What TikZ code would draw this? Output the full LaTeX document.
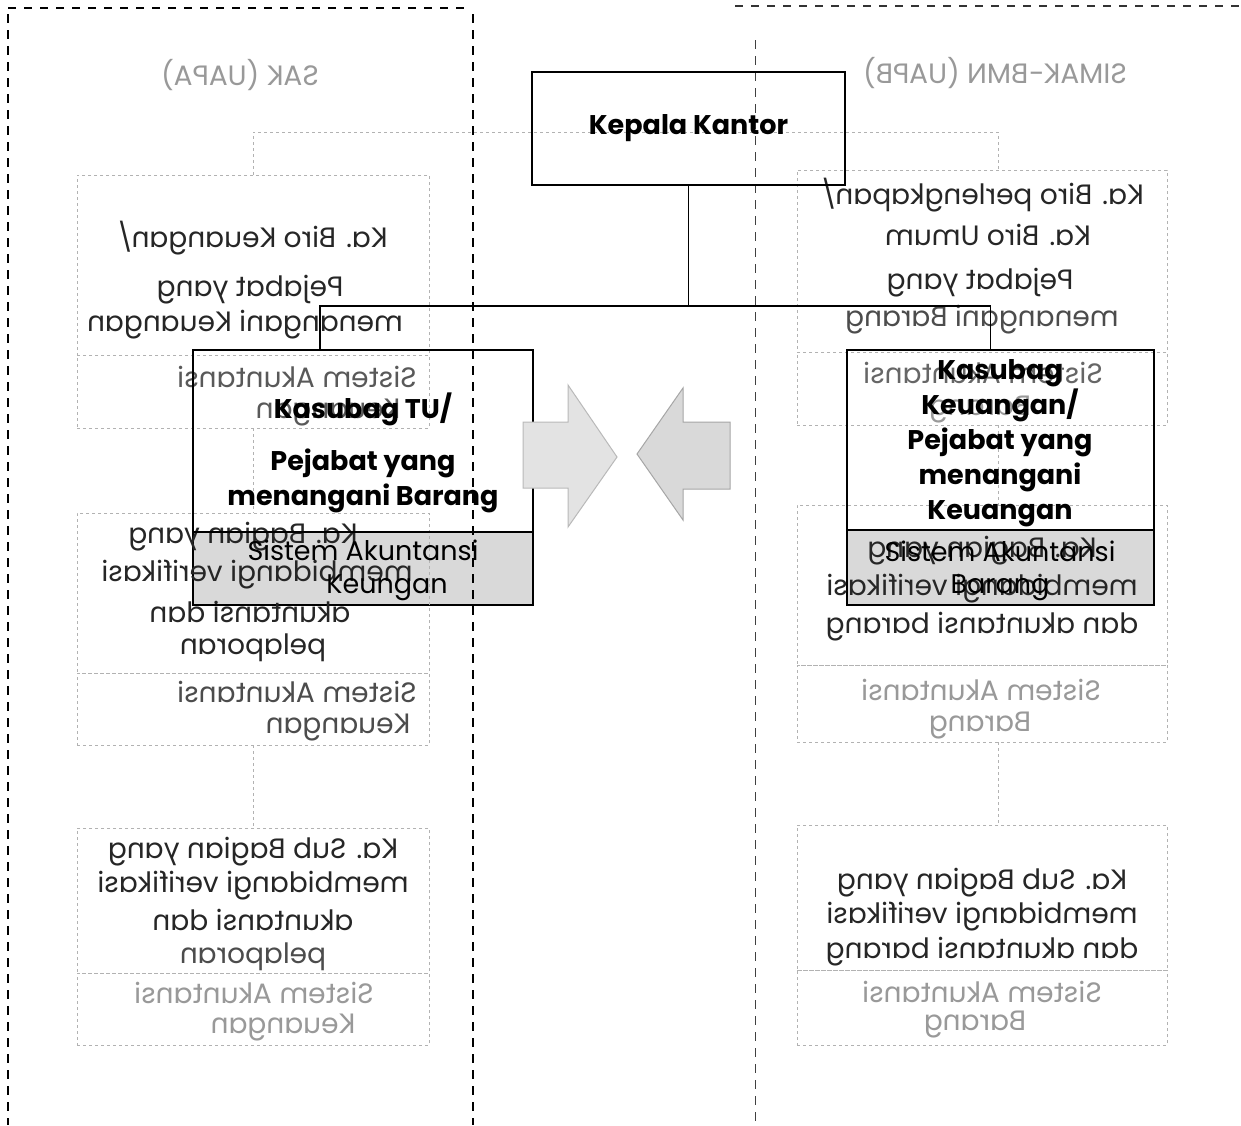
\documentclass[tikz,border=0pt]{standalone}
\usepackage{fontspec}
\setmainfont{Poppins}
\begin{document}
\begin{tikzpicture}[x=1pt,y=-1pt,
  frontline/.style={draw=black, line width=1.6pt},
  frontbox/.style={frontline, rectangle, inner sep=0pt},
  shadebox/.style={frontbox, fill=gray!30},
  backline/.style={draw=gray!60, line width=0.9pt, dash pattern=on 3pt off 3pt},
  backbox/.style={backline, rectangle, inner sep=0pt},
  backtxt/.style={xscale=-1, inner sep=0pt, text=black!85, font=\fontsize{28}{35}\selectfont},
  fainttxt/.style={backtxt, text=black!40},
  fronttxt/.style={inner sep=0pt, align=center, font=\fontsize{27}{35}\selectfont\bfseries},
  plaintxt/.style={inner sep=0pt, font=\fontsize{27}{35}\selectfont},
  colline/.style={line width=1.6pt, dash pattern=on 9pt off 7pt},
  arrowshape/.style={fill=gray!22, line width=1pt}
]
\useasboundingbox (0,0) rectangle (1241,1125);
\fill[white] (0,0) rectangle (1241,1125);

% shaded lower parts of the front boxes (drawn first, so the back text shows over them)
\node[shadebox, minimum width=340pt, minimum height=73pt] (tus) at (363,568.5) {};
\node[shadebox, minimum width=307pt, minimum height=75pt] (kes) at (1000.5,567.5) {};

% page frame and column lines
\draw[line width=1.2pt, dash pattern=on 8pt off 8pt] (8,8) -- (470,8);
\draw[line width=1.2pt, dash pattern=on 8pt off 8pt, black!80] (735,6) -- (1241,6);
\draw[colline, line width=1.2pt] (8,14) -- (8,1125);
\draw[colline] (473,14) -- (473,1125);
\draw[colline, line width=1pt, black!75] (755,40) -- (755,1125);

% ---------- show-through (mirrored) back side ----------
\node[fainttxt] (ttl1) at (240,75) {SAK (UAPA)};
\node[fainttxt] (ttl2) at (995,73) {SIMAK-BMN (UAPB)};

\node[backbox, minimum width=352pt, minimum height=180pt] (lb1a) at (253,265) {};
\node[backbox, minimum width=352pt, minimum height=73pt]  (lb1b) at (253,391.5) {};
\node[backbox, minimum width=352pt, minimum height=160pt] (lb2a) at (253,593) {};
\node[backbox, minimum width=352pt, minimum height=72pt]  (lb2b) at (253,709) {};
\node[backbox, minimum width=352pt, minimum height=145pt] (lb3a) at (253,900.5) {};
\node[backbox, minimum width=352pt, minimum height=72pt]  (lb3b) at (253,1009) {};

\node[backbox, minimum width=370pt, minimum height=182pt] (rb1a) at (982,261) {};
\node[backbox, minimum width=370pt, minimum height=73pt]  (rb1b) at (982,388.5) {};
\node[backbox, minimum width=370pt, minimum height=160pt] (rb2a) at (982,585) {};
\node[backbox, minimum width=370pt, minimum height=77pt]  (rb2b) at (982,703.5) {};
\node[backbox, minimum width=370pt, minimum height=145pt] (rb3a) at (982,897.5) {};
\node[backbox, minimum width=370pt, minimum height=75pt]  (rb3b) at (982,1007.5) {};

\coordinate (bkk) at (688,132);
\draw[backline] (lb1a.north) |- (bkk) -| ([xshift=16pt]rb1a.north);
\draw[backline] (lb1b.south) -- (lb2a.north);
\draw[backline] (lb2b.south) -- (lb3a.north);
\draw[backline] ([xshift=16pt]rb1b.south) -- ([xshift=16pt]rb2a.north);
\draw[backline] ([xshift=16pt]rb2b.south) -- ([xshift=16pt]rb3a.north);

% left back texts
\node[backtxt] (l1) at (253,238) {Ka. Biro Keuangan/};
\node[backtxt] (l2) at (250,290) {Pejabat yang};
\node[backtxt] (l3) at (245,325) {menangani Keuangan};
\node[backtxt, text=black!65] (l4) at (297,377) {Sistem Akuntansi};
\node[backtxt, text=black!65] (l5) at (328,413) {Keuangan};
\node[backtxt] (l6) at (243,537) {Ka. Bagian yang};
\node[backtxt] (l7) at (257,575) {membidangi verifikasi};
\node[backtxt] (l8) at (250,612) {akuntansi dan};
\node[backtxt] (l9) at (253,648) {pelaporan};
\node[backtxt, text=black!70] (l10) at (297,692) {Sistem Akuntansi};
\node[backtxt, text=black!70] (l11) at (338,728) {Keuangan};
\node[backtxt] (l12) at (253,852) {Ka. Sub Bagian yang};
\node[backtxt] (l13) at (253,886) {membidangi verifikasi};
\node[backtxt] (l14) at (253,920) {akuntansi dan};
\node[backtxt, text=black!70] (l15) at (253,957) {pelaporan};
\node[fainttxt] (l16) at (254,993) {Sistem Akuntansi};
\node[fainttxt] (l17) at (283,1028) {Keuangan};

% right back texts
\node[backtxt] (r1) at (983,195) {Ka. Biro perlengkapan/};
\node[backtxt] (r2) at (988,235) {Ka. Biro Umum};
\node[backtxt] (r3) at (980,283) {Pejabat yang};
\node[backtxt, text=black!70] (r4) at (982,320) {menangani Barang};
\node[backtxt, text=black!60] (r5) at (983,373) {Sistem Akuntansi};
\node[fainttxt] (r6) at (980,410) {Barang};
\node[backtxt] (r7) at (982,551) {Ka. Bagian yang};
\node[backtxt] (r8) at (982,589) {membidangi verifikasi};
\node[backtxt] (r9) at (982,627) {dan akuntansi barang};
\node[fainttxt] (r10) at (981,690) {Sistem Akuntansi};
\node[fainttxt] (r11) at (980,726) {Barang};
\node[backtxt] (r12) at (982,883) {Ka. Sub Bagian yang};
\node[backtxt] (r13) at (982,917) {membidangi verifikasi};
\node[backtxt] (r14) at (982,952) {dan akuntansi barang};
\node[fainttxt] (r15) at (982,992) {Sistem Akuntansi};
\node[fainttxt] (r16) at (975,1025) {Barang};

% ---------- front side ----------
\node[frontbox, minimum width=313pt, minimum height=113pt] (kk) at (688.5,128.5) {};
\node[fronttxt] (kkt) at (kk) {Kepala Kantor};
\node[frontbox, minimum width=340pt, minimum height=182pt] (tu) at (363,441) {};
\node[frontbox, minimum width=307pt, minimum height=180pt] (ke) at (1000.5,440) {};

\draw[frontline] (kk.south) -- ++(0,120) coordinate (j);
\draw[frontline] (j) -| ([xshift=-43pt]tu.north);
\draw[frontline] (j) -| ([xshift=-10pt]ke.north);

\node[fronttxt] (tut) at (363,453) {Kasubag TU/\\[17pt]Pejabat yang\\menangani Barang};
\node[plaintxt] (tus1) at (363,550) {Sistem Akuntansi};
\node[plaintxt] (tus2) at (387,588) {Keungan};
\node[fronttxt] (ket) at (1000,443.5) {Kasubag\\Keuangan/\\Pejabat yang\\menangani\\Keuangan};
\node[plaintxt] (kes1) at (1000,551) {Sistem Akuntansi};
\node[plaintxt] (kes2) at (1000,588) {Barang};

% block arrows between the columns
\draw[arrowshape, draw=gray!55] (523,422) -- (568,422) -- (568,385) -- (617,457) -- (568,527) -- (568,488) -- (523,488) -- cycle;
\draw[arrowshape, fill=gray!30, draw=gray!70] (730,422) -- (683,422) -- (683,388) -- (637,454) -- (683,520) -- (683,489) -- (730,489) -- cycle;
\end{tikzpicture}
\end{document}
